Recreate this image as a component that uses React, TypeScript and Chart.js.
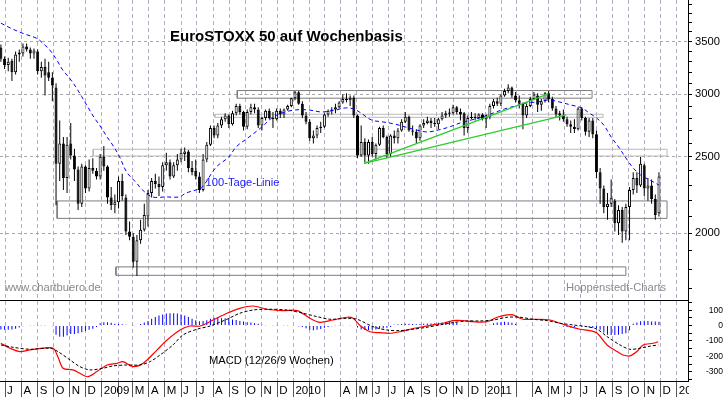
import React, { useEffect, useRef } from 'react';
import { Chart, registerables } from 'chart.js';

Chart.register(...registerables);

// ---------------- data (weekly candles, first bar = week of 2008-06-23) ----------------
const opens = [
  3440, 3330, 3270, 3310, 3200, 3370, 3380, 3450, 3420, 3380,
  3400, 3210, 3250, 3200, 3150, 3060, 2450, 2600, 2350, 2600,
  2510, 2410, 2180, 2430, 2280, 2420, 2400, 2360, 2500, 2430,
  2220, 2170, 2190, 2330, 2220, 2010, 1980, 1840, 1960, 2020,
  2100, 2250, 2330, 2310, 2290, 2440, 2460, 2360, 2440, 2480,
  2520, 2540, 2420, 2400, 2360, 2270, 2480, 2590, 2720, 2660,
  2740, 2790, 2820, 2750, 2840, 2900, 2850, 2730, 2850, 2890,
  2870, 2740, 2800, 2860, 2800, 2790, 2860, 2830, 2870, 2900,
  2966, 3018, 2920, 2820, 2770, 2640, 2660, 2720, 2730, 2830,
  2860, 2870, 2890, 2930, 2960, 2950, 2970, 2820, 2510, 2610,
  2510, 2610, 2520, 2590, 2720, 2650, 2520, 2660, 2640, 2700,
  2770, 2810, 2700, 2690, 2640, 2740, 2760, 2780, 2760, 2750,
  2790, 2820, 2845, 2840, 2890, 2850, 2840, 2720, 2800, 2810,
  2800, 2830, 2790, 2810, 2900, 2940, 2920, 2990, 3030, 3060,
  2990, 2950, 2920, 2820, 2900, 2960, 2990, 2910, 2940, 3010,
  2960, 2880, 2840, 2820, 2790, 2750, 2730, 2710, 2880, 2800,
  2690, 2780, 2670, 2390, 2280, 2160, 2180, 2200, 2060, 2140,
  2010, 2160, 2270, 2350, 2300, 2440, 2280, 2300, 2210, 2120,
];
const highs = [
  3470, 3350, 3340, 3330, 3400, 3420, 3480, 3480, 3440, 3430,
  3420, 3300, 3330, 3300, 3200, 3100, 2780, 2650, 2650, 2760,
  2560, 2430, 2450, 2440, 2480, 2490, 2420, 2520, 2580, 2440,
  2290, 2240, 2360, 2380, 2240, 2070, 2000, 1990, 2080, 2180,
  2270, 2350, 2380, 2360, 2460, 2530, 2480, 2460, 2520, 2560,
  2570, 2550, 2470, 2480, 2390, 2520, 2610, 2740, 2740, 2760,
  2810, 2840, 2830, 2860, 2920, 2920, 2860, 2870, 2920, 2920,
  2890, 2810, 2870, 2880, 2850, 2880, 2880, 2880, 2910, 2970,
  3030, 3030, 2940, 2850, 2790, 2700, 2740, 2770, 2840, 2870,
  2890, 2920, 2940, 3000, 3010, 2990, 2990, 2830, 2740, 2640,
  2630, 2650, 2600, 2730, 2740, 2660, 2670, 2700, 2720, 2790,
  2850, 2820, 2740, 2710, 2750, 2790, 2810, 2800, 2800, 2800,
  2850, 2860, 2880, 2910, 2900, 2880, 2850, 2820, 2850, 2840,
  2840, 2840, 2830, 2920, 2960, 2970, 3000, 3050, 3090, 3070,
  3020, 2990, 2930, 2920, 2980, 3020, 3010, 2960, 3020, 3030,
  2980, 2900, 2860, 2870, 2810, 2780, 2790, 2890, 2890, 2810,
  2800, 2800, 2700, 2420, 2300, 2250, 2340, 2210, 2170, 2160,
  2180, 2290, 2390, 2390, 2500, 2450, 2350, 2340, 2240, 2390,
];
const lows = [
  3300, 3230, 3210, 3120, 3180, 3300, 3350, 3400, 3330, 3330,
  3180, 3150, 2990, 3120, 2940, 2170, 2330, 2270, 2250, 2480,
  2330, 2140, 2160, 2250, 2260, 2380, 2340, 2340, 2400, 2180,
  2140, 2120, 2150, 2200, 1990, 1960, 1810, 1765, 1940, 2010,
  2040, 2220, 2280, 2230, 2260, 2400, 2340, 2350, 2400, 2460,
  2470, 2390, 2370, 2340, 2250, 2260, 2460, 2580, 2640, 2640,
  2720, 2770, 2720, 2740, 2820, 2830, 2700, 2710, 2830, 2840,
  2720, 2700, 2780, 2790, 2720, 2780, 2800, 2800, 2860, 2890,
  2950, 2910, 2800, 2750, 2620, 2600, 2640, 2680, 2720, 2810,
  2830, 2840, 2880, 2920, 2930, 2900, 2800, 2490, 2500, 2460,
  2450, 2500, 2480, 2580, 2640, 2490, 2500, 2600, 2600, 2690,
  2760, 2690, 2660, 2600, 2620, 2720, 2750, 2720, 2730, 2710,
  2780, 2800, 2810, 2830, 2830, 2780, 2660, 2680, 2790, 2780,
  2790, 2780, 2720, 2790, 2880, 2900, 2900, 2980, 3010, 2970,
  2930, 2880, 2710, 2800, 2890, 2950, 2850, 2860, 2930, 2930,
  2860, 2800, 2780, 2770, 2730, 2680, 2680, 2700, 2780, 2660,
  2650, 2640, 2350, 2180, 2120, 2080, 2160, 2010, 1990, 1945,
  1960, 1960, 2240, 2250, 2290, 2230, 2200, 2180, 2080, 2100,
];
const closes = [
  3330, 3270, 3300, 3200, 3370, 3390, 3450, 3420, 3380, 3410,
  3210, 3250, 3170, 3150, 3080, 2450, 2600, 2350, 2590, 2510,
  2410, 2180, 2430, 2280, 2420, 2400, 2360, 2500, 2430, 2220,
  2170, 2190, 2330, 2230, 2010, 1980, 1840, 1960, 2020, 2110,
  2250, 2330, 2310, 2290, 2440, 2460, 2360, 2440, 2480, 2530,
  2540, 2420, 2390, 2360, 2270, 2480, 2590, 2720, 2660, 2740,
  2790, 2820, 2750, 2840, 2900, 2850, 2730, 2850, 2890, 2870,
  2740, 2800, 2860, 2800, 2790, 2860, 2830, 2870, 2900, 2966,
  3018, 2920, 2820, 2770, 2640, 2660, 2720, 2730, 2830, 2860,
  2870, 2890, 2930, 2960, 2950, 2970, 2820, 2510, 2610, 2510,
  2610, 2520, 2590, 2720, 2650, 2520, 2660, 2640, 2700, 2770,
  2810, 2700, 2690, 2640, 2740, 2760, 2780, 2760, 2750, 2790,
  2820, 2840, 2835, 2890, 2850, 2830, 2720, 2800, 2810, 2800,
  2830, 2790, 2810, 2900, 2940, 2920, 2990, 3030, 3060, 2990,
  2950, 2920, 2820, 2900, 2960, 3000, 2910, 2940, 3010, 2960,
  2880, 2830, 2820, 2790, 2750, 2730, 2710, 2880, 2800, 2690,
  2780, 2670, 2390, 2280, 2160, 2180, 2215, 2060, 2140, 2010,
  2160, 2270, 2350, 2300, 2450, 2280, 2300, 2210, 2110, 2360,
];

// 100-day line, week index -> value
const maWeeks = [0, 2.5, 6, 9.8, 11.4, 13.3, 15.2, 16.8, 18.7, 20.6, 22, 23.6, 25.5, 27.4, 28.8, 30.4, 32.3, 34.2, 36.9, 38.5, 41.2, 45, 48.5, 50.4, 53.1, 54.8, 58.6, 62, 64, 67.5, 71, 73.7, 76.4, 80.2, 83.8, 87.3, 91.1, 93.8, 96, 97.9, 100.8, 104, 107, 110, 113, 116, 119, 122, 125, 128, 131, 134, 137, 140, 143, 146, 149, 152, 155, 158, 160, 162, 164, 166, 168, 170, 172, 174, 176, 178, 179];
const maValues = [3694, 3643, 3585, 3533, 3484, 3415, 3317, 3222, 3145, 3054, 2980, 2894, 2798, 2718, 2652, 2588, 2499, 2392, 2316, 2270, 2224, 2224, 2224, 2250, 2270, 2290, 2427, 2499, 2574, 2649, 2728, 2801, 2842, 2867, 2867, 2850, 2867, 2884, 2875, 2842, 2784, 2768, 2752, 2728, 2704, 2688, 2704, 2728, 2761, 2784, 2809, 2842, 2875, 2901, 2926, 2934, 2952, 2934, 2909, 2884, 2842, 2801, 2743, 2649, 2574, 2492, 2420, 2371, 2343, 2316, 2302];

// MACD (12/26/9)
const macdWeeks = [0, 2.5, 5.2, 7.9, 11.5, 14.2, 15.5, 16.9, 19.6, 22.3, 23.7, 26.1, 28.9, 31.6, 33.2, 35.9, 38.7, 42.5, 45.2, 48.7, 51.4, 54.2, 57.7, 61.5, 65.0, 68.6, 72.4, 76.7, 80.6, 84.1, 86.8, 90.3, 94.2, 95.8, 97.7, 100.4, 103.1, 105.8, 108.6, 111.3, 114.0, 117.5, 120.3, 123.0, 125.7, 128.4, 132.2, 135.0, 137.7, 139.3, 142.0, 145.8, 149.4, 152.1, 154.8, 157.5, 160.3, 162.2, 164.9, 167.6, 169.2, 171.1, 173.0, 174.7, 177.4, 178.8];
const macdValues = [-115, -147, -169, -158, -147, -147, -202, -277, -288, -321, -332, -299, -256, -245, -234, -267, -245, -158, -94, -29, -3, -3, 36, 80, 112, 127, 106, 97, 97, 47, 21, 36, 54, 47, 0, -40, -46, -50, -40, -24, -11, 4, 15, 32, 32, 25, 25, 54, 69, 69, 41, 41, 36, 15, -7, -24, -33, -50, -126, -169, -191, -197, -169, -126, -115, -105];
const signalWeeks = [0, 3.3, 7.9, 13.4, 15.5, 18.8, 21.5, 24.2, 27.8, 30.5, 34.3, 37.8, 40.6, 43.3, 46.8, 49.5, 53.3, 56.9, 61.5, 65.0, 68.6, 72.4, 77.8, 82.2, 86.0, 89.5, 94.2, 96.9, 101.2, 105.0, 108.6, 112.1, 115.9, 119.4, 123.0, 126.8, 130.3, 133.9, 137.7, 141.2, 144.7, 148.6, 152.1, 155.6, 159.4, 162.2, 164.9, 168.4, 171.1, 173.9, 176.6, 178.8];
const signalValues = [-126, -141, -154, -147, -169, -223, -267, -288, -277, -262, -256, -256, -234, -191, -126, -61, -24, -3, 41, 80, 101, 106, 101, 80, 58, 41, 47, 41, -7, -29, -33, -24, -11, 4, 19, 30, 30, 36, 54, 54, 41, 32, 15, 4, -7, -24, -72, -126, -154, -147, -134, -126];
const histValues = [
  -25, -28, -28, -25, -20, -12, -5, 0, 2, 2,
  2, 2, 2, 0, -5, -60, -72, -72, -65, -55,
  -55, -50, -43, -35, -28, -20, -10, 15, 22, 22,
  18, 12, 10, 8, 5, 3, 2, 3, 10, 20,
  30, 45, 55, 65, 72, 78, 80, 80, 78, 72,
  65, 55, 45, 35, 28, 30, 35, 45, 50, 55,
  47, 47, 45, 40, 36, 30, 26, 22, 20, 15,
  12, 5, 2, 0, 2, 2, 0, 2, 2, 0,
  0, -5, -10, -18, -28, -30, -28, -22, -15, -10,
  -5, 2, 2, 2, 4, 2, 0, -12, -25, -29,
  -29, -27, -25, -20, -18, -15, -10, 5, 8, 10,
  12, 12, 10, 8, 10, 12, 14, 14, 15, 18,
  22, 25, 26, 24, 20, 5, 2, 0, 2, 2,
  0, 2, 2, 5, 15, 20, 22, 24, 22, 18,
  12, 3, 0, 2, 0, 2, 0, 2, 0, 2,
  0, -3, -5, -8, -10, -12, -10, -5, -8, -10,
  -12, -15, -18, -28, -45, -60, -62, -62, -60, -55,
  -50, -30, 12, 20, 28, 32, 30, 26, 26, 24,
];

// support / resistance zones
const boxStartWeeks = [64.3, 58.2, 25.1, 15.3, 31.3];
const boxEndWeeks = [160.8, 163.8, 181.2, 181.2, 170.0];
const boxLows = [2967, 2806, 2506, 2089, 1769];
const boxHighs = [3034, 2831, 2556, 2198, 1813];
const boxColors = ['#7c7c7c', '#b9b9b9', '#b9b9b9', '#7c7c7c', '#7c7c7c'];

// trend lines
const trendStartWeek = 98.8;
const trendStartValue = 2453;
const trendEndWeeks = [148.9, 153.8];
const trendEndValues = [3004, 2825];

// axes
const monthLabels = [
  'J', 'A', 'S', 'O', 'N', 'D',
  '2009', '', 'M', 'A', 'M', 'J', 'J', 'A', 'S', 'O', 'N', 'D',
  '2010', '', '', 'A', 'M', 'J', 'J', 'A', 'S', 'O', 'N', 'D',
  '2011', '', '', 'A', 'M', 'J', 'J', 'A', 'S', 'O', 'N', 'D',
  '2012',
];
const mainTickValues = [1700, 1800, 1900, 2000, 2100, 2200, 2300, 2400, 2500, 2600, 2700, 2800, 2900, 3000, 3100, 3200, 3300, 3400, 3500, 3600, 3700, 3800, 3900];
const macdTickValues = [-350, -300, -250, -200, -150, -100, -50, 0, 50, 100, 150];

const X_MIN_DAY = -9.7;
const X_MAX_DAY = 1300.3;
const Y_MIN = 1646;
const Y_MAX = 3952;
const MACD_MIN = -360;
const MACD_MAX = 166;

// ---------------- helpers ----------------
const DAY_MS = 86400000;
const ORIGIN = Date.UTC(2008, 6, 1);
const FIRST_MONDAY = Date.UTC(2008, 5, 23);
const weekToDay = (w: number) => (FIRST_MONDAY - ORIGIN) / DAY_MS + 7 * w;
const monthStartDays = monthLabels.map((_, i) => (Date.UTC(2008, 6 + i, 1) - ORIGIN) / DAY_MS);

const FONT = "'Liberation Sans', Arial, Helvetica, sans-serif";

const labelClip = {
  id: 'labelClip',
  afterDraw(chart: any) {
    const { ctx, chartArea, width, height } = chart;
    ctx.save();
    ctx.fillStyle = '#ffffff';
    ctx.fillRect(chartArea.right + 1, chartArea.bottom + 1, width - chartArea.right - 1, height - chartArea.bottom - 1);
    ctx.restore();
  },
};

function buildConfig(): any {
  const wickData = lows.map((l, i) => ({ x: weekToDay(i), y: [l, highs[i]] }));
  const bodyData = opens.map((o, i) => ({ x: weekToDay(i), y: [Math.min(o, closes[i]), Math.max(o, closes[i])] }));
  const bodyFill = opens.map((o, i) => (closes[i] >= o ? '#ffffff' : '#000000'));

  const boxSets = boxStartWeeks.map((s, i) => {
    const x0 = weekToDay(s);
    const x1 = weekToDay(boxEndWeeks[i]);
    return {
      type: 'line',
      yAxisID: 'y',
      data: [
        { x: x0, y: boxLows[i] },
        { x: x1, y: boxLows[i] },
        { x: x1, y: boxHighs[i] },
        { x: x0, y: boxHighs[i] },
        { x: x0, y: boxLows[i] },
      ],
      borderColor: boxColors[i],
      borderWidth: 1,
      pointRadius: 0,
      fill: false,
      tension: 0,
      order: 20,
    };
  });

  const trendSets = trendEndWeeks.map((w, i) => ({
    type: 'line',
    yAxisID: 'y',
    data: [
      { x: weekToDay(trendStartWeek), y: trendStartValue },
      { x: weekToDay(w), y: trendEndValues[i] },
    ],
    borderColor: '#2fcc2f',
    borderWidth: 1.3,
    pointRadius: 0,
    tension: 0,
    order: 3,
  }));

  return {
    type: 'line',
    data: {
      datasets: [
        ...boxSets,
        {
          type: 'bar',
          yAxisID: 'y',
          data: wickData,
          backgroundColor: '#000000',
          borderWidth: 0,
          barThickness: 1,
          grouped: false,
          inflateAmount: 0,
          order: 12,
        },
        {
          type: 'bar',
          yAxisID: 'y',
          data: bodyData,
          backgroundColor: bodyFill,
          borderColor: '#000000',
          borderWidth: 1,
          borderSkipped: false,
          barThickness: 3,
          grouped: false,
          inflateAmount: 0,
          order: 11,
        },
        {
          type: 'line',
          yAxisID: 'y',
          data: maWeeks.map((w, i) => ({ x: weekToDay(w), y: maValues[i] })),
          borderColor: '#0000ff',
          borderWidth: 1,
          borderDash: [4, 3],
          pointRadius: 0,
          tension: 0.35,
          order: 4,
        },
        ...trendSets,
        {
          type: 'bar',
          yAxisID: 'y2',
          data: histValues.map((v, i) => ({ x: weekToDay(i), y: v })),
          backgroundColor: '#0000ff',
          borderWidth: 0,
          barThickness: 1,
          grouped: false,
          inflateAmount: 0,
          order: 15,
        },
        {
          type: 'line',
          yAxisID: 'y2',
          data: macdWeeks.map((w, i) => ({ x: weekToDay(w), y: macdValues[i] })),
          borderColor: '#ff0000',
          borderWidth: 1.2,
          pointRadius: 0,
          tension: 0.3,
          order: 2,
        },
        {
          type: 'line',
          yAxisID: 'y2',
          data: signalWeeks.map((w, i) => ({ x: weekToDay(w), y: signalValues[i] })),
          borderColor: '#000000',
          borderWidth: 1,
          borderDash: [3, 2],
          pointRadius: 0,
          tension: 0.3,
          order: 1,
        },
      ],
    },
    options: {
      responsive: false,
      animation: false,
      events: [],
      devicePixelRatio: 1,
      layout: { padding: 0, autoPadding: false },
      plugins: { legend: { display: false }, tooltip: { enabled: false }, title: { display: false } },
      scales: {
        x: {
          type: 'linear',
          min: X_MIN_DAY,
          max: X_MAX_DAY,
          offset: false,
          afterBuildTicks: (s: any) => {
            s.ticks = monthStartDays.map((v) => ({ value: v }));
          },
          afterFit: (s: any) => {
            s.height = 16;
            s.paddingLeft = 0;
            s.paddingRight = 0;
          },
          grid: {
            color: '#b7abc3',
            lineWidth: 1,
            offset: false,
            drawOnChartArea: true,
            drawTicks: true,
            tickLength: 16,
            tickColor: '#555555',
            tickWidth: 1,
          },
          border: { display: true, color: '#000000', width: 1, dash: [4, 3] },
          ticks: {
            autoSkip: false,
            maxRotation: 0,
            minRotation: 0,
            align: 'start',
            labelOffset: 2,
            padding: -13,
            color: '#000000',
            font: { family: FONT, size: 11.5 },
            callback: (_v: any, i: number) => monthLabels[i],
          },
        },
        y: {
          type: 'logarithmic',
          position: 'right',
          stack: 'panels',
          stackWeight: 300,
          min: Y_MIN,
          max: Y_MAX,
          afterBuildTicks: (s: any) => {
            s.ticks = mainTickValues.map((v) => ({ value: v }));
          },
          afterFit: (s: any) => {
            s.width = 35;
            s.paddingTop = 0;
            s.paddingBottom = 0;
          },
          grid: {
            color: (c: any) => (c.tick && c.tick.value % 500 === 0 ? '#a7a7a7' : 'rgba(0,0,0,0)'),
            tickColor: '#000000',
            tickLength: 4,
            lineWidth: 1,
          },
          border: { display: true, color: '#000000', width: 1, dash: [3, 3] },
          ticks: {
            autoSkip: false,
            padding: 3,
            color: '#000000',
            font: { family: FONT, size: 11.2 },
            callback: (v: number) => (v % 500 === 0 ? String(v) : ''),
          },
        },
        y2: {
          type: 'linear',
          position: 'right',
          stack: 'panels',
          stackWeight: 81,
          min: MACD_MIN,
          max: MACD_MAX,
          afterBuildTicks: (s: any) => {
            s.ticks = [...macdTickValues, MACD_MAX].map((v) => ({ value: v }));
          },
          afterFit: (s: any) => {
            s.width = 35;
            s.paddingTop = 0;
            s.paddingBottom = 0;
          },
          grid: {
            color: (c: any) => (c.tick && c.tick.value === MACD_MAX ? '#000000' : 'rgba(0,0,0,0)'),
            tickColor: (c: any) => (c.tick && c.tick.value === MACD_MAX ? 'rgba(0,0,0,0)' : '#000000'),
            tickLength: 4,
            lineWidth: 1,
          },
          border: { display: true, color: '#000000', width: 1 },
          ticks: {
            autoSkip: false,
            padding: 11,
            crossAlign: 'far',
            color: '#000000',
            font: { family: FONT, size: 8.5 },
            callback: (v: number) => (v % 100 === 0 ? String(v) : ''),
          },
        },
      },
    },
    plugins: [labelClip],
  };
}

const textBase: React.CSSProperties = {
  position: 'absolute',
  fontFamily: FONT,
  whiteSpace: 'nowrap',
  margin: 0,
  padding: 0,
};

export default function App() {
  const canvasRef = useRef<HTMLCanvasElement | null>(null);

  useEffect(() => {
    document.body.style.margin = '0';
    const canvas = canvasRef.current;
    if (!canvas) return;
    const chart = new Chart(canvas, buildConfig());
    return () => chart.destroy();
  }, []);

  return (
    <div style={{ position: 'relative', width: 723, height: 397, background: '#ffffff', overflow: 'hidden' }}>
      <canvas ref={canvasRef} width={723} height={397} style={{ display: 'block', width: 723, height: 397 }} />
      <div style={{ ...textBase, left: 170, top: 28, fontSize: 15, lineHeight: '15px', fontWeight: 'bold', color: '#000' }}>
        EuroSTOXX 50 auf Wochenbasis
      </div>
      <div style={{ ...textBase, left: 205.5, top: 176.5, fontSize: 11.2, lineHeight: '11.2px', color: '#1a1aff' }}>
        100-Tage-Linie
      </div>
      <div style={{ ...textBase, left: 5, top: 281.5, fontSize: 11.2, lineHeight: '11.2px', color: '#8a8a8a' }}>
        www.chartbuero.de
      </div>
      <div style={{ ...textBase, left: 566, top: 281.5, fontSize: 11.2, lineHeight: '11.2px', color: '#8a8a8a' }}>
        Hoppenstedt-Charts
      </div>
      <div style={{ ...textBase, left: 209, top: 355, fontSize: 11.2, lineHeight: '11.2px', color: '#000' }}>
        MACD (12/26/9 Wochen)
      </div>
    </div>
  );
}
